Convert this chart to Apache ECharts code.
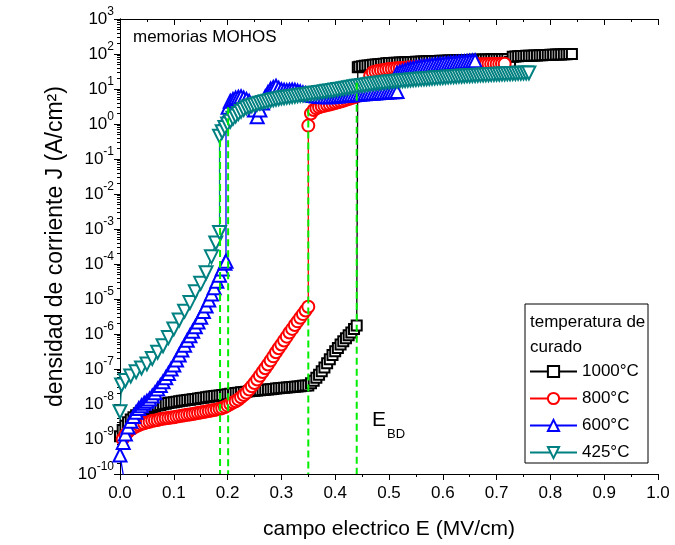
<!DOCTYPE html>
<html>
<head>
<meta charset="utf-8">
<script src="https://cdn.jsdelivr.net/npm/echarts@6/dist/echarts.min.js"></script>
<style>html,body{margin:0;padding:0;background:#fff}#c{width:675px;height:545px}</style>
</head>
<body>
<div id="c"></div>
<script>
// ---- data: [E (MV/cm), J (A/cm^2)] ----
var black1000 = [
[0.000,1.2e-9],[0.005,1.8e-9],[0.010,2.4e-9],[0.015,3.0e-9],[0.020,3.6e-9],[0.025,4.2e-9],[0.030,4.8e-9],[0.035,5.4e-9],[0.040,6.0e-9],[0.045,6.6e-9],[0.050,7.1e-9],[0.055,7.6e-9],[0.060,8.1e-9],[0.065,8.5e-9],[0.070,9.0e-9],[0.075,9.4e-9],[0.080,9.8e-9],[0.085,1.02e-8],[0.090,1.06e-8],[0.095,1.1e-8],[0.100,1.13e-8],[0.105,1.16e-8],[0.110,1.2e-8],[0.115,1.23e-8],[0.120,1.26e-8],[0.125,1.3e-8],[0.130,1.33e-8],[0.135,1.37e-8],[0.140,1.4e-8],[0.145,1.44e-8],[0.150,1.48e-8],[0.155,1.52e-8],[0.160,1.56e-8],[0.165,1.6e-8],[0.170,1.64e-8],[0.175,1.68e-8],[0.180,1.72e-8],[0.185,1.76e-8],[0.190,1.8e-8],[0.195,1.85e-8],[0.200,1.9e-8],[0.205,1.95e-8],[0.210,2.0e-8],[0.215,2.05e-8],[0.220,2.1e-8],[0.225,2.15e-8],[0.230,2.2e-8],[0.235,2.25e-8],[0.240,2.3e-8],[0.245,2.35e-8],[0.250,2.4e-8],[0.255,2.44e-8],[0.260,2.48e-8],[0.265,2.52e-8],[0.270,2.56e-8],[0.275,2.6e-8],[0.280,2.65e-8],[0.285,2.7e-8],[0.290,2.75e-8],[0.295,2.8e-8],[0.300,2.85e-8],[0.305,2.9e-8],[0.310,2.95e-8],[0.315,3.0e-8],[0.320,3.05e-8],[0.325,3.1e-8],[0.330,3.15e-8],[0.335,3.2e-8],[0.340,3.3e-8],[0.345,3.35e-8],[0.350,3.4e-8],[0.355,3.9e-8],[0.360,4.6e-8],[0.365,5.6e-8],[0.370,6.9e-8],[0.375,8.6e-8],[0.380,1.1e-7],[0.385,1.45e-7],[0.390,1.9e-7],[0.395,2.5e-7],[0.400,3.2e-7],[0.405,4.0e-7],[0.410,5.0e-7],[0.415,6.2e-7],[0.420,7.6e-7],[0.425,9.2e-7],[0.430,1.1e-6],[0.435,1.4e-6],[0.440,1.75e-6],
[0.442,42],[0.445,43],[0.450,45],[0.455,46],[0.460,47],[0.465,48],[0.470,49],[0.475,50],[0.480,51],[0.485,52],[0.490,53],[0.495,54],[0.500,55],[0.505,55.5],[0.510,56],[0.515,56.5],[0.520,57],[0.525,57.5],[0.530,58],[0.535,58.5],[0.540,59],[0.545,59.5],[0.550,60],[0.555,60.5],[0.560,61],[0.565,61.5],[0.570,62],[0.575,62.5],[0.580,63],[0.585,63.3],[0.590,63.6],[0.595,64],[0.600,64.3],[0.605,64.6],[0.610,65],[0.615,65.3],[0.620,65.6],[0.625,66],[0.630,66.3],[0.635,66.6],[0.640,67],[0.645,67.3],[0.650,67.6],[0.655,68],[0.660,68.3],[0.665,68.6],[0.670,69],[0.675,69.3],[0.680,69.6],[0.685,70],[0.690,70.3],[0.695,70.6],[0.700,71],[0.705,71.3],[0.710,71.6],[0.715,72],[0.720,72],[0.725,60],[0.730,84],[0.735,85],[0.740,86],[0.745,87],[0.750,88],[0.755,88.5],[0.760,89],[0.765,89.5],[0.770,90],[0.775,91],[0.780,92],[0.785,92.5],[0.790,93],[0.795,94],[0.800,95],[0.805,95.5],[0.810,96],[0.815,97],[0.820,97.5],[0.825,98],[0.830,99],[0.835,99.5],[0.840,100]
];
var red800 = [
[0.005,1.0e-9],[0.010,1.3e-9],[0.015,1.6e-9],[0.020,1.9e-9],[0.025,2.1e-9],[0.030,2.3e-9],[0.035,2.5e-9],[0.040,2.7e-9],[0.045,2.8e-9],[0.050,3.0e-9],[0.055,3.1e-9],[0.060,3.3e-9],[0.065,3.4e-9],[0.070,3.5e-9],[0.075,3.7e-9],[0.080,3.8e-9],[0.085,3.9e-9],[0.090,4.0e-9],[0.095,4.1e-9],[0.100,4.2e-9],[0.105,4.35e-9],[0.110,4.5e-9],[0.115,4.6e-9],[0.120,4.75e-9],[0.125,4.9e-9],[0.130,5.0e-9],[0.135,5.2e-9],[0.140,5.35e-9],[0.145,5.5e-9],[0.150,5.7e-9],[0.155,5.9e-9],[0.160,6.1e-9],[0.165,6.3e-9],[0.170,6.5e-9],[0.175,6.7e-9],[0.180,7.0e-9],[0.185,7.3e-9],[0.190,7.6e-9],[0.195,8.2e-9],[0.200,9.0e-9],[0.205,1.0e-8],[0.210,1.1e-8],[0.215,1.2e-8],[0.220,1.35e-8],[0.225,1.55e-8],[0.230,1.8e-8],[0.235,2.1e-8],[0.240,2.6e-8],[0.245,3.2e-8],[0.250,4.0e-8],[0.255,5.0e-8],[0.260,6.4e-8],[0.265,8.2e-8],[0.270,1.05e-7],[0.275,1.35e-7],[0.280,1.75e-7],[0.285,2.3e-7],[0.290,3.0e-7],[0.295,3.9e-7],[0.300,5.0e-7],[0.305,6.5e-7],[0.310,8.4e-7],[0.315,1.1e-6],[0.320,1.4e-6],[0.325,1.8e-6],[0.330,2.3e-6],[0.335,2.9e-6],[0.340,3.7e-6],[0.345,4.7e-6],[0.350,6.0e-6],
[0.350,0.9],[0.355,2.0],[0.360,2.5],[0.365,2.8],[0.370,3.0],[0.375,3.2],[0.380,3.3],[0.385,3.5],[0.390,3.6],[0.395,3.8],[0.400,4.0],[0.405,4.2],[0.410,4.4],[0.415,4.6],[0.420,4.9],[0.425,5.2],[0.430,5.5],[0.435,5.8],[0.440,6.2],[0.445,6.6],[0.450,7.2],[0.455,9.0],[0.460,15],[0.465,24],[0.470,30],[0.475,31.5],[0.480,33],[0.485,34],[0.490,35],[0.495,36],[0.500,37],[0.505,38],[0.510,38.5],[0.515,39],[0.520,39.5],[0.525,40],[0.530,40.5],[0.535,41],[0.540,41.5],[0.545,42],[0.550,42.5],[0.555,43],[0.560,43.5],[0.565,44],[0.570,44.5],[0.575,45],[0.580,45.3],[0.585,45.6],[0.590,46],[0.595,46.3],[0.600,46.6],[0.605,47],[0.610,47.3],[0.615,47.6],[0.620,48],[0.625,48.3],[0.630,48.6],[0.635,49],[0.640,49.3],[0.645,49.6],[0.650,50],[0.655,50.2],[0.660,50.4],[0.665,50.6],[0.670,50.8],[0.675,51],[0.680,51.2],[0.685,51.4],[0.690,51.6],[0.695,51.8],[0.700,52],[0.705,52.2],[0.710,52.4],[0.715,52.6]
];
var blue600 = [
[0.009,5.0e-11],[0.000,3.5e-10],[0.006,8.0e-10],[0.010,1.4e-9],[0.015,2.2e-9],[0.020,3.2e-9],[0.025,4.4e-9],[0.030,5.8e-9],[0.035,7.4e-9],[0.040,8.9e-9],[0.045,1.05e-8],[0.050,1.2e-8],[0.055,1.4e-8],[0.060,1.7e-8],[0.065,2.1e-8],[0.070,2.7e-8],[0.075,3.4e-8],[0.080,4.3e-8],[0.085,5.6e-8],[0.090,7.4e-8],[0.095,1.0e-7],[0.100,1.3e-7],[0.105,1.8e-7],[0.110,2.5e-7],[0.115,3.5e-7],[0.120,4.8e-7],[0.125,6.6e-7],[0.130,8.9e-7],[0.135,1.2e-6],[0.140,1.6e-6],[0.145,2.2e-6],[0.150,3.0e-6],[0.155,4.4e-6],[0.160,6.3e-6],[0.165,9.3e-6],[0.170,1.4e-5],[0.175,2.1e-5],[0.180,3.2e-5],[0.185,4.8e-5],[0.190,7.2e-5],[0.195,1.05e-4],[0.197,1.2e-4],
[0.197,1.5],[0.201,3.0],[0.205,4.5],[0.210,5.0],[0.215,5.5],[0.220,5.8],[0.225,6.0],[0.230,5.5],[0.235,5.0],[0.240,4.5],[0.245,3.5],[0.250,2.5],[0.255,1.6],[0.260,2.5],[0.265,4.0],[0.270,6.0],[0.275,8.0],[0.280,10],[0.285,11],[0.290,12],[0.295,10.5],[0.300,9.5],[0.305,9.2],[0.310,9.0],[0.315,9.2],[0.320,9.4],[0.325,9.2],[0.330,8.8],[0.335,8.3],[0.340,7.8],[0.345,7.4],[0.350,7.0],[0.355,6.7],[0.360,6.5],[0.365,6.3],[0.370,6.2],[0.375,6.1],[0.380,6.0],[0.385,6.0],[0.390,6.0],[0.395,6.1],[0.400,6.2],[0.405,6.3],[0.410,6.4],[0.415,6.5],[0.420,6.6],[0.425,6.7],[0.430,6.8],[0.435,6.9],[0.440,7.0],[0.445,7.1],[0.450,7.2],[0.455,7.3],[0.460,7.4],[0.465,7.5],[0.470,7.6],[0.475,7.7],[0.480,7.8],[0.485,7.9],[0.490,8.0],[0.495,8.1],[0.500,8.2],[0.505,8.3],[0.510,8.4],[0.515,8.5],
[0.515,28],[0.520,30],[0.525,32],[0.530,34],[0.535,36],[0.540,38],[0.545,39.5],[0.550,41],[0.555,42.5],[0.560,44],[0.565,45],[0.570,46],[0.575,47],[0.580,48],[0.585,49],[0.590,50],[0.595,51],[0.600,52],[0.605,53],[0.610,54],[0.615,55],[0.620,56],[0.625,57],[0.630,58],[0.635,59],[0.640,60],[0.645,61],[0.650,62],[0.655,63],[0.660,64]
];
var teal425 = [
[0.000,6.0e-9],[0.003,3.5e-8],[0.010,4.7e-8],[0.020,6.3e-8],[0.030,8.3e-8],[0.040,1.07e-7],[0.050,1.4e-7],[0.060,2.0e-7],[0.070,3.0e-7],[0.080,4.6e-7],[0.090,7.9e-7],[0.100,1.4e-6],[0.110,2.5e-6],[0.120,4.5e-6],[0.130,7.9e-6],[0.140,1.6e-5],[0.150,2.8e-5],[0.160,5.6e-5],[0.170,1.6e-4],[0.178,4.0e-4],[0.185,8.0e-4],
[0.185,0.45],[0.190,0.6],[0.195,0.8],[0.200,1.0],[0.205,1.2],[0.210,1.45],[0.215,1.7],[0.220,2.0],[0.225,2.3],[0.230,2.6],[0.235,2.9],[0.240,3.1],[0.245,3.3],[0.250,3.5],[0.255,3.7],[0.260,3.9],[0.265,4.1],[0.270,4.3],[0.275,4.5],[0.280,4.7],[0.285,4.9],[0.290,5.1],[0.295,5.3],[0.300,5.5],[0.305,5.65],[0.310,5.8],[0.315,5.95],[0.320,6.1],[0.325,6.25],[0.330,6.4],[0.335,6.6],[0.340,6.75],[0.345,6.9],[0.350,7.1],[0.355,7.3],[0.360,7.5],[0.365,7.7],[0.370,7.9],[0.375,8.1],[0.380,8.3],[0.385,8.6],[0.390,8.8],[0.395,9.0],[0.400,9.3],[0.405,9.6],[0.410,9.9],[0.415,10.2],[0.420,10.5],[0.425,10.9],[0.430,11.2],[0.435,11.6],[0.440,11.9],[0.445,12.2],[0.450,12.6],[0.455,12.9],[0.460,13.3],[0.465,13.6],[0.470,14.0],[0.475,14.3],[0.480,14.6],[0.485,14.9],[0.490,15.2],[0.495,15.5],[0.500,15.8],[0.505,16.1],[0.510,16.4],[0.515,16.7],[0.520,17.0],[0.525,17.3],[0.530,17.5],[0.535,17.8],[0.540,18.1],[0.545,18.3],[0.550,18.6],[0.555,18.9],[0.560,19.2],[0.565,19.4],[0.570,19.7],[0.575,20.0],[0.580,20.3],[0.585,20.5],[0.590,20.8],[0.595,21.1],[0.600,21.4],[0.605,21.7],[0.610,21.9],[0.615,22.2],[0.620,22.5],[0.625,22.7],[0.630,23.0],[0.635,23.2],[0.640,23.5],[0.645,23.7],[0.650,24.0],[0.655,24.2],[0.660,24.4],[0.665,24.7],[0.670,24.9],[0.675,25.1],[0.680,25.4],[0.685,25.6],[0.690,25.8],[0.695,26.1],[0.700,26.3],[0.705,26.5],[0.710,26.7],[0.715,26.9],[0.720,27.1],[0.725,27.3],[0.730,27.6],[0.735,27.8],[0.740,28.0],[0.745,28.2],[0.750,28.4],[0.755,28.6],[0.760,28.8]
];
// breakdown field guide lines (E_BD) : x position and top J
var ebdE   = [0.186, 0.201, 0.350, 0.440];
var ebdTop = [0.35, 3.0, 2.6, 15];
var seriesNames = ['1000°C', '800°C', '600°C', '425°C'];

var FONT = 'Liberation Sans, Arial, sans-serif';
var chart = echarts.init(document.getElementById('c'), null, {renderer: 'canvas'});

function mk(name, data, symbol, size, color, rot) {
  return {
    name: name, type: 'line', data: data, symbol: symbol, symbolSize: size,
    symbolRotate: rot || 0, color: color, animation: false, clip: true,
    lineStyle: {color: color, width: 1.3},
    itemStyle: {color: color, borderColor: color, borderWidth: 1.6}
  };
}
var series = [
  mk(seriesNames[0], black1000, 'emptyRect', 10, '#000000'),
  mk(seriesNames[1], red800, 'emptyCircle', 12, '#ff0000'),
  mk(seriesNames[2], blue600, 'emptyTriangle', 13, '#0000ff'),
  mk(seriesNames[3], teal425, 'emptyTriangle', 13, '#008080', 180)
];
ebdE.forEach(function (e, i) {
  series.push({
    type: 'line', data: [[e, ebdTop[i]], [e, 1e-10]], symbol: 'none', animation: false,
    lineStyle: {color: '#00ee00', width: 2, type: [7, 4]}, z: 5, silent: true
  });
});

var axisLineStyle = {lineStyle: {color: '#000', width: 1}};
chart.setOption({
  backgroundColor: '#fff',
  animation: false,
  grid: {left: 120, top: 19, width: 538, height: 457, containLabel: false},
  legend: {
    data: seriesNames, orient: 'vertical', left: 529, top: 363, itemGap: 10,
    itemWidth: 47, itemHeight: 14, padding: 0,
    textStyle: {fontSize: 17, fontFamily: FONT, color: '#000'}
  },
  xAxis: [{
    type: 'value', min: 0, max: 1, interval: 0.1, position: 'bottom',
    name: 'campo electrico E (MV/cm)', nameLocation: 'middle', nameGap: 45,
    nameTextStyle: {fontSize: 21, fontFamily: FONT, color: '#000'},
    axisLine: axisLineStyle, splitLine: {show: false},
    axisTick: {show: true, inside: false, length: 6, lineStyle: {color: '#000'}},
    minorTick: {show: true, splitNumber: 2, length: 3, lineStyle: {color: '#000'}},
    axisLabel: {fontSize: 17, fontFamily: FONT, color: '#000', margin: 11,
      formatter: function (v) { return v.toFixed(1); }}
  }, {
    type: 'value', min: 0, max: 1, interval: 0.1, position: 'top',
    axisLine: axisLineStyle, splitLine: {show: false}, axisLabel: {show: false},
    axisTick: {show: true, inside: true, length: 6, lineStyle: {color: '#000'}},
    minorTick: {show: true, splitNumber: 2, length: 3, lineStyle: {color: '#000'}}
  }],
  yAxis: [{
    type: 'log', logBase: 10, min: 1e-10, max: 1e3, interval: 1, position: 'left',
    name: 'densidad de corriente J (A/cm²)', nameLocation: 'middle', nameGap: 51,
    nameTextStyle: {fontSize: 23, fontFamily: FONT, color: '#000'},
    axisLine: axisLineStyle, splitLine: {show: false},
    axisTick: {show: true, inside: false, length: 6, lineStyle: {color: '#000'}},
    minorTick: {show: true, splitNumber: 9, length: 3, lineStyle: {color: '#000'}},
    axisLabel: {
      margin: 6,
      formatter: function (v) { var e = Math.round(Math.log10(v)); return '{b|10}{s|' + e + '}'; },
      rich: {
        b: {fontSize: 17, fontFamily: FONT, color: '#000'},
        s: {fontSize: 12, fontFamily: FONT, color: '#000', verticalAlign: 'bottom', padding: [0, 0, 14, 0]}
      }
    }
  }, {
    type: 'log', logBase: 10, min: 1e-10, max: 1e3, interval: 1, position: 'right',
    axisLine: axisLineStyle, splitLine: {show: false}, axisLabel: {show: false},
    axisTick: {show: true, inside: true, length: 6, lineStyle: {color: '#000'}},
    minorTick: {show: true, splitNumber: 9, length: 3, lineStyle: {color: '#000'}}
  }],
  graphic: [
    {type: 'rect', shape: {x: 525, y: 304, width: 123, height: 159}, style: {fill: 'none', stroke: '#000', lineWidth: 1}, z: 10},
    {type: 'text', x: 530, y: 322, style: {text: 'temperatura de', font: '17px ' + FONT, fill: '#000', verticalAlign: 'middle'}, z: 10},
    {type: 'text', x: 530, y: 347, style: {text: 'curado', font: '17px ' + FONT, fill: '#000', verticalAlign: 'middle'}, z: 10},
    {type: 'text', x: 133, y: 37, style: {text: 'memorias MOHOS', font: '17px ' + FONT, fill: '#000', verticalAlign: 'middle'}, z: 10},
    {type: 'text', x: 372, y: 420, style: {text: 'E', font: '21px ' + FONT, fill: '#000', verticalAlign: 'middle'}, z: 10},
    {type: 'text', x: 387, y: 434, style: {text: 'BD', font: '13px ' + FONT, fill: '#000', verticalAlign: 'middle'}, z: 10}
  ],
  series: series
});
</script>
</body>
</html>
